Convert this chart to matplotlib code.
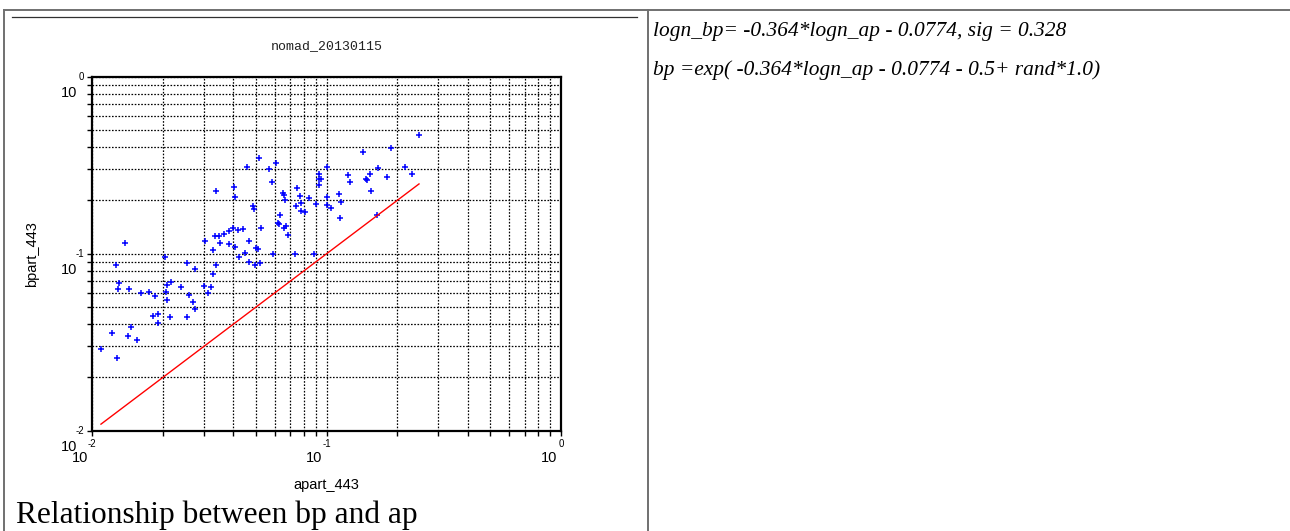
import matplotlib
matplotlib.use("Agg")
import matplotlib.pyplot as plt
from matplotlib.lines import Line2D

W, H = 1290, 531

# absorption (apart_443) and backscatter (bpart_443)
AP_443 = [
    0.01089, 0.01278, 0.01214, 0.01420, 0.01467, 0.01547, 0.01262, 0.01383, 0.01304, 0.01287,
    0.01430, 0.01609, 0.01741, 0.01857, 0.01821, 0.01907, 0.01907, 0.02146, 0.02528, 0.02063,
    0.02089, 0.02161, 0.02077, 0.02398, 0.02594, 0.02682, 0.02751, 0.02049, 0.02528, 0.02751,
    0.02988, 0.03219, 0.03116, 0.03264, 0.03371, 0.03282, 0.03017, 0.03507, 0.03831, 0.04052,
    0.04206, 0.04462, 0.04677, 0.04995, 0.05094, 0.04650, 0.04961, 0.05220, 0.05886, 0.07348,
    0.08807, 0.03348, 0.03463, 0.03648, 0.03819, 0.03997, 0.04165, 0.04409, 0.05272, 0.03371,
    0.04024, 0.04052, 0.04586, 0.05159, 0.06081, 0.05675, 0.05874, 0.04850, 0.04913, 0.06531,
    0.06577, 0.06661, 0.06323, 0.06171, 0.06244, 0.06706, 0.06577, 0.06860, 0.07495, 0.07696,
    0.07435, 0.07794, 0.07771, 0.08082, 0.08433, 0.09008, 0.09231, 0.09304, 0.09432, 0.09250,
    0.1006, 0.1006, 0.1006, 0.1044, 0.1132, 0.1155, 0.1140, 0.1230, 0.1264, 0.1425,
    0.1465, 0.1487, 0.1531, 0.1546, 0.1640, 0.1660, 0.1801, 0.1888, 0.2153, 0.2313, 0.2478,
]
BP_443 = [
    0.02884, 0.02565, 0.03565, 0.03406, 0.03853, 0.03254, 0.0860, 0.1142, 0.06859, 0.06295,
    0.06295, 0.06022, 0.06053, 0.05768, 0.04446, 0.04563, 0.04075, 0.04406, 0.04406, 0.06077,
    0.06628, 0.06921, 0.05474, 0.06509, 0.05867, 0.05334, 0.04891, 0.09543, 0.08918, 0.08228,
    0.06569, 0.06458, 0.05998, 0.07680, 0.08666, 0.1049, 0.1180, 0.1149, 0.1134, 0.1095,
    0.09543, 0.1013, 0.1180, 0.1077, 0.1059, 0.08975, 0.0860, 0.08826, 0.09897, 0.09897,
    0.09961, 0.1251, 0.1259, 0.1292, 0.1344, 0.1388, 0.1361, 0.1384, 0.1388, 0.2261,
    0.2390, 0.2091, 0.3090, 0.3473, 0.3253, 0.2999, 0.2557, 0.1865, 0.1781, 0.2212,
    0.2133, 0.2011, 0.1644, 0.1497, 0.1472, 0.1428, 0.1397, 0.1275, 0.2350, 0.2118,
    0.1860, 0.1934, 0.1750, 0.1714, 0.2064, 0.1909, 0.2820, 0.2652, 0.2642, 0.2444,
    0.3090, 0.2091, 0.1877, 0.1812, 0.2183, 0.1959, 0.1581, 0.2773, 0.2525, 0.3754,
    0.2632, 0.2592, 0.2813, 0.2261, 0.1650, 0.3038, 0.2701, 0.3955, 0.3082, 0.2813, 0.4654,
]
EXPONENTS = [-2, -1, 0]

TITLE = "nomad_20130115"
CAPTION = "Relationship between bp and ap"
FORMULAS = [
    "logn_bp= -0.364*logn_ap - 0.0774, sig = 0.328",
    "bp =exp( -0.364*logn_ap - 0.0774 - 0.5+ rand*1.0)",
]


def fx(x):
    return x / W


def fy(y):
    return 1 - y / H


fig = plt.figure(figsize=(W / 100, H / 100), dpi=100)
fig.patch.set_facecolor("white")

# table borders of the page the chart sits in
border = "#707070"
fig.add_artist(Line2D([fx(4), fx(1290)], [fy(9.5), fy(9.5)], color=border, lw=1.4))
fig.add_artist(Line2D([fx(4), fx(4)], [fy(9.5), fy(531)], color=border, lw=1.4))
fig.add_artist(Line2D([fx(648), fx(648)], [fy(9.5), fy(531)], color=border, lw=1.4))
fig.add_artist(Line2D([fx(12), fx(637)], [fy(17), fy(17)], color="#303030", lw=0.9))

ax = fig.add_axes([fx(92.3), fy(430.7), fx(561) - fx(92.3), fy(76.7) - fy(430.7)])
ax.set_xscale("log")
ax.set_yscale("log")
ax.set_xlim(0.01, 1)
ax.set_ylim(0.01, 1)

ax.grid(True, which="both", color="black", linestyle=(0, (1.3, 1.3)), linewidth=0.9)
ax.set_axisbelow(True)

ax.plot(AP_443, BP_443, linestyle="none", marker="+", markersize=4.8,
        markeredgewidth=1.1, color="#0000ff", zorder=3)
lo, hi = min(AP_443), max(AP_443)
ax.plot([lo, hi], [lo, hi], color="#ff0000", lw=1.0, zorder=3)

for side in ax.spines.values():
    side.set_linewidth(1.6)
ax.tick_params(which="both", direction="out", length=3.5, width=1.0,
               labelbottom=False, labelleft=False)

tick_font = dict(family=["Liberation Sans", "DejaVu Sans"], color="black")
for e in EXPONENTS:
    v = 10.0 ** e
    # x axis: exponent at the tick, base "10" below and to the left
    ax.annotate(str(e), xy=(v, 0), xycoords=("data", "axes fraction"),
                xytext=(0, -13), textcoords="offset pixels",
                ha="center", va="center", fontsize=7, **tick_font)
    ax.annotate("10", xy=(v, 0), xycoords=("data", "axes fraction"),
                xytext=(-4, -27), textcoords="offset pixels",
                ha="right", va="center", fontsize=10.5, **tick_font)
    # y axis
    ax.annotate(str(e), xy=(0, v), xycoords=("axes fraction", "data"),
                xytext=(-8, 0), textcoords="offset pixels",
                ha="right", va="center", fontsize=7, **tick_font)
    ax.annotate("10", xy=(0, v), xycoords=("axes fraction", "data"),
                xytext=(-15, -16), textcoords="offset pixels",
                ha="right", va="center", fontsize=10.5, **tick_font)

fig.text(fx(326.5), fy(485), "apart_443", ha="center", va="center",
         fontsize=10.5, **tick_font)
fig.text(fx(32), fy(254), "bpart_443", ha="center", va="center",
         rotation=90, fontsize=10.5, **tick_font)
fig.text(fx(326.5), fy(46), TITLE, ha="center", va="center", fontsize=9.5,
         family=["Liberation Mono", "DejaVu Sans Mono"], color="#222222")

fig.text(fx(16), fy(523), CAPTION, ha="left", va="baseline", fontsize=22.6,
         family=["Liberation Serif", "DejaVu Serif"])
for text, base in zip(FORMULAS, [36, 75]):
    fig.text(fx(653), fy(base), text, ha="left", va="baseline", fontsize=15.4,
             style="italic", family=["Liberation Serif", "DejaVu Serif"])

fig.savefig("out.png", dpi=100)
